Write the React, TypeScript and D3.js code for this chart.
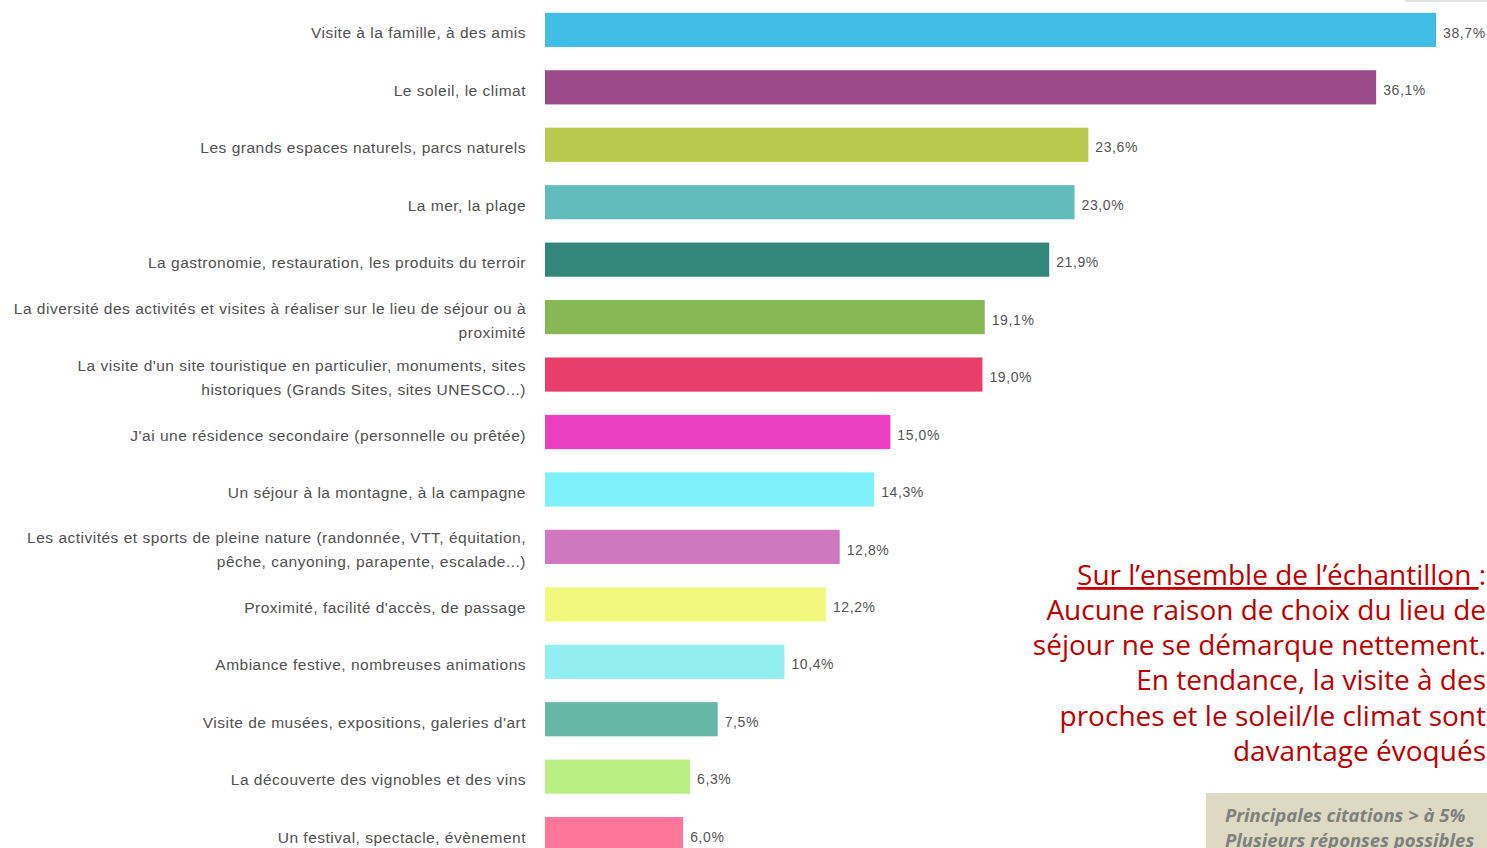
import * as d3 from 'd3';

const categories: string[][] = [
  ['Visite à la famille, à des amis'],
  ['Le soleil, le climat'],
  ['Les grands espaces naturels, parcs naturels'],
  ['La mer, la plage'],
  ['La gastronomie, restauration, les produits du terroir'],
  ['La diversité des activités et visites à réaliser sur le lieu de séjour ou à', 'proximité'],
  ["La visite d'un site touristique en particulier, monuments, sites", 'historiques (Grands Sites, sites UNESCO...)'],
  ["J'ai une résidence secondaire (personnelle ou prêtée)"],
  ['Un séjour à la montagne, à la campagne'],
  ['Les activités et sports de pleine nature (randonnée, VTT, équitation,', 'pêche, canyoning, parapente, escalade...)'],
  ["Proximité, facilité d'accès, de passage"],
  ['Ambiance festive, nombreuses animations'],
  ["Visite de musées, expositions, galeries d'art"],
  ['La découverte des vignobles et des vins'],
  ['Un festival, spectacle, évènement'],
];

const values: number[] = [38.7, 36.1, 23.6, 23.0, 21.9, 19.1, 19.0, 15.0, 14.3, 12.8, 12.2, 10.4, 7.5, 6.3, 6.0];

const colors: string[] = [
  '#41bde8', '#9b4a8a', '#b9c94d', '#62bcbc', '#33877a',
  '#86b955', '#e83e6a', '#e93fc0', '#7ef0fb', '#cf78bf',
  '#f0f97e', '#92eef0', '#67b7a6', '#b9ee82', '#fe7699',
];

const noteLines: string[] = [
  'Aucune raison de choix du lieu de',
  'séjour ne se démarque nettement.',
  'En tendance, la visite à des',
  'proches et le soleil/le climat sont',
  'davantage évoqués',
];

const boxLines: string[] = ['Principales citations > à 5%', 'Plusieurs réponses possibles'];

export default function App() {
  const width = 1487;
  const height = 848;
  const idx = values.map((_, i) => i);

  const x = d3.scaleLinear().domain([0, 38.7]).range([545, 1436]);
  const y = d3.scaleBand<number>()
    .domain(idx)
    .range([1.3, 862.7])
    .paddingInner(0.405)
    .paddingOuter(0.2);

  const bh = y.bandwidth();

  return (
    <svg
      width={width}
      height={height}
      style={{ position: 'absolute', left: 0, top: 0, background: '#fff' }}
    >
      <rect x={1405} y={0} width={82} height={2} fill="#e2e2e2" />
      {idx.map(i => {
        const yc = (y(i) as number) + bh / 2;
        const lines = categories[i];
        return (
          <g key={i}>
            <rect x={x(0)} y={yc - bh / 2} width={x(values[i]) - x(0)} height={bh} fill={colors[i]} />
            {lines.map((t, j) => (
              <text
                key={j}
                x={526}
                y={yc + 4.5 + (lines.length === 2 ? (j === 0 ? -12 : 12) : 0)}
                textAnchor="end"
                dominantBaseline="middle"
                fontFamily="'Liberation Sans', Arial, sans-serif"
                fontSize={15.5}
                letterSpacing={0.5}
                fill="#505050"
              >
                {t}
              </text>
            ))}
            <text
              x={x(values[i]) + 7}
              y={yc + 4}
              dominantBaseline="middle"
              fontFamily="'Liberation Sans', Arial, sans-serif"
              fontSize={14}
              letterSpacing={0.6}
              fill="#555"
            >
              {values[i].toFixed(1).replace('.', ',') + '%'}
            </text>
          </g>
        );
      })}

      <g fontFamily="'Open Sans', sans-serif" fontSize={28} fill="#c00000" textAnchor="end">
        <text x={1486} y={585}>
          <tspan textDecoration="underline">Sur l’ensemble de l’échantillon </tspan>
          <tspan>:</tspan>
        </text>
        {noteLines.map((t, i) => (
          <text key={i} x={1486} y={620 + i * 35.2}>{t}</text>
        ))}
      </g>

      <rect x={1206} y={793} width={281} height={55} fill="#ddd9c3" />
      <g fontFamily="'Open Sans', sans-serif" fontSize={18.5} fontWeight={700} fontStyle="italic" fill="#7f7f7f">
        {boxLines.map((t, i) => (
          <text key={i} x={1225} y={822 + i * 25}>{t}</text>
        ))}
      </g>
    </svg>
  );
}
